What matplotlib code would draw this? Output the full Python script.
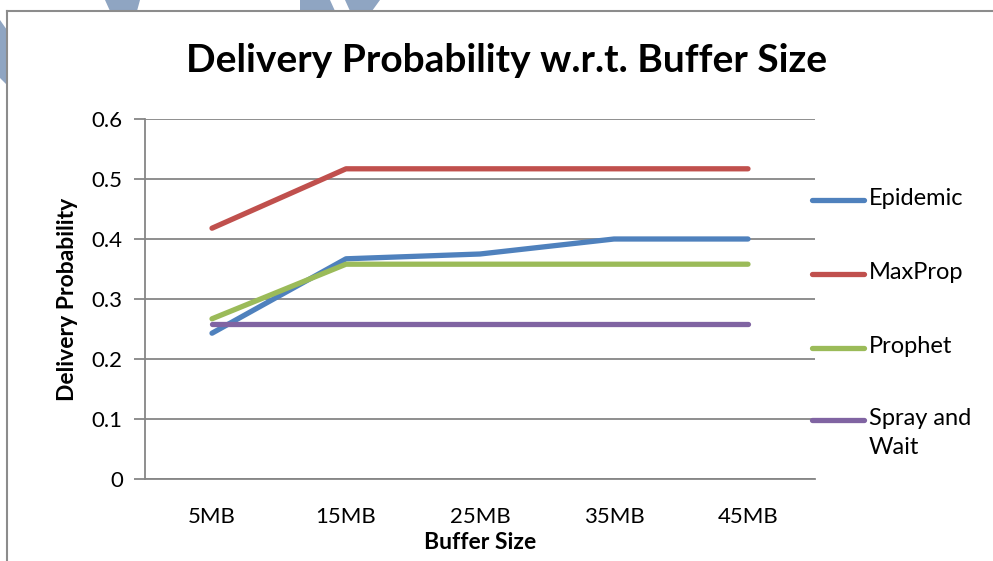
import matplotlib
matplotlib.use("Agg")
import matplotlib.pyplot as plt
from matplotlib.patches import Polygon
from matplotlib.lines import Line2D

plt.rcParams['font.family'] = ['Lato', 'DejaVu Sans']

# data
buffer_sizes = ['5MB', '15MB', '25MB', '35MB', '45MB']
epidemic = [0.243, 0.367, 0.375, 0.400, 0.400]
maxprop = [0.418, 0.517, 0.517, 0.517, 0.517]
prophet = [0.267, 0.358, 0.358, 0.358, 0.358]
spray_wait = [0.258, 0.258, 0.258, 0.258, 0.258]
series_names = ['Epidemic', 'MaxProp', 'Prophet', 'Spray and\nWait']
colors = ['#4F81BD', '#C0504D', '#9BBB59', '#8064A2']
y_ticks = [0, 0.1, 0.2, 0.3, 0.4, 0.5, 0.6]

W, H = 993, 561
fig = plt.figure(figsize=(W / 100, H / 100), dpi=100)

# faint watermark shapes at the top edge
wm = '#8FA5C2'
for pts in [[(105, 0), (140, 0), (137, 11), (110, 11)],
            [(300, 0), (330, 0), (335, 11), (300, 11)],
            [(345, 0), (380, 0), (372, 11), (350, 11)],
            [(0, 20), (7, 30), (7, 85), (0, 78)]]:
    fig.add_artist(Polygon([(x / W, 1 - y / H) for x, y in pts], closed=True,
                           fc=wm, ec='none', transform=fig.transFigure))

# chart frame
fig.add_artist(Line2D([7 / W, 7 / W], [0, 1 - 11 / H], color='#8C8C8C', lw=1.5))
fig.add_artist(Line2D([7 / W, 1], [1 - 11 / H, 1 - 11 / H], color='#8C8C8C', lw=1.5))

ax = fig.add_axes([145 / W, 1 - 479 / H, (815 - 145) / W, (479 - 119) / H])

x = range(len(buffer_sizes))
all_series = [epidemic, maxprop, prophet, spray_wait]
for vals, c in zip(all_series, colors):
    ax.plot(x, vals, color=c, lw=3.8, solid_capstyle='round', solid_joinstyle='round', zorder=3)

ax.set_xlim(-0.5, len(buffer_sizes) - 0.5)
ax.set_ylim(0, 0.6)
ax.set_yticks(y_ticks)
ax.set_yticklabels(['0' if v == 0 else f'{v:.1f}' for v in y_ticks], fontsize=16)
ax.set_xticks(list(x))
ax.set_xticklabels(buffer_sizes, fontsize=16)
ax.grid(axis='y', color='#868686', lw=1.3, zorder=1)
for s in ['top', 'right']:
    ax.spines[s].set_visible(False)
for s in ['left', 'bottom']:
    ax.spines[s].set_color('#868686')
    ax.spines[s].set_linewidth(1.3)
ax.tick_params(axis='y', length=8, width=1.3, color='#868686', pad=8)
ax.tick_params(axis='x', length=0, pad=20)

ax.set_ylabel('Delivery Probability', fontsize=16.5, fontweight='bold', labelpad=10)
ax.set_xlabel('Buffer Size', fontsize=16.5, fontweight='bold', labelpad=4)

fig.text(507 / W, 1 - 60 / H, 'Delivery Probability w.r.t. Buffer Size',
         ha='center', va='center', fontsize=28, fontweight='bold')

# legend drawn to the right of the plot area
leg_y = [200, 274, 348, 420]
for name, c, yy in zip(series_names, colors, leg_y):
    fy = 1 - yy / H
    fig.add_artist(Line2D([812 / W, 864 / W], [fy, fy], color=c, lw=3.8,
                          solid_capstyle='round'))
    fig.text(869 / W, fy + 12 / H, name, ha='left', va='top', fontsize=17,
             linespacing=1.5)

fig.savefig('out.png', dpi=100)
